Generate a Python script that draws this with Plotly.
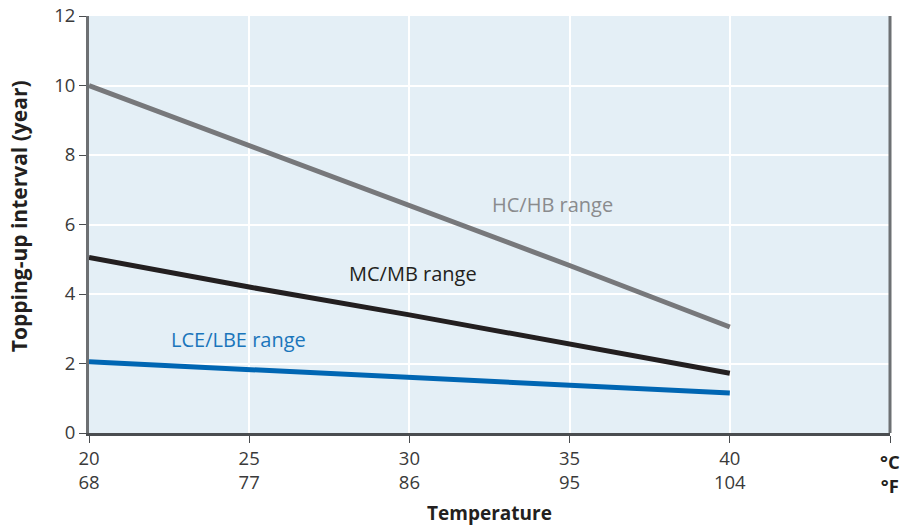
import plotly.graph_objects as go

temp_c = [20, 25, 30, 35, 40]
hc_hb = [10.0, 8.27, 6.55, 4.82, 3.05]
mc_mb = [5.05, 4.2, 3.4, 2.57, 1.72]
lce_lbe = [2.05, 1.82, 1.6, 1.37, 1.15]

tick_c = [20, 25, 30, 35, 40]
tick_f = [68, 77, 86, 95, 104]
y_ticks = [0, 2, 4, 6, 8, 10, 12]

FONT = "Open Sans, Noto Sans, sans-serif"

fig = go.Figure()
fig.add_trace(go.Scatter(x=temp_c, y=hc_hb, mode="lines",
                         line=dict(color="#77787b", width=5), showlegend=False))
fig.add_trace(go.Scatter(x=temp_c, y=mc_mb, mode="lines",
                         line=dict(color="#231f20", width=5), showlegend=False))
fig.add_trace(go.Scatter(x=temp_c, y=lce_lbe, mode="lines",
                         line=dict(color="#0066b3", width=5), showlegend=False))

tickvals = tick_c + [45]
ticktext = [f"{c}<br>{f}" for c, f in zip(tick_c, tick_f)] + [""]

fig.update_layout(
    width=901, height=526,
    margin=dict(l=89, r=11, t=16, b=93),
    paper_bgcolor="white",
    plot_bgcolor="#e4eff6",
    font=dict(family=FONT, size=18, color="#333333"),
    xaxis=dict(range=[20, 45], tickvals=tickvals, ticktext=ticktext,
               tickfont=dict(size=18.5, color="#3a3a3a"), automargin=False,
               ticklabeloverflow="allow",
               showgrid=True, gridcolor="white", gridwidth=1.5,
               zeroline=False, showline=True, linecolor="#4a4d50", linewidth=3,
               ticks="outside", ticklen=7, tickcolor="#4a4d50", tickwidth=1,
               title=dict(text="<b>Temperature</b>", font=dict(size=19, color="#231f20"), standoff=17)),
    yaxis=dict(range=[0, 12], tickvals=y_ticks,
               tickfont=dict(size=18.5, color="#3a3a3a"), automargin=False,
               ticklabeloverflow="allow",
               showgrid=True, gridcolor="white", gridwidth=1.5,
               zeroline=False, showline=True, linecolor="#6d7073", linewidth=3,
               ticks="outside", ticklen=7, tickcolor="#4a4d50", tickwidth=1),
    shapes=[dict(type="line", xref="paper", yref="paper", x0=1, x1=1, y0=0, y1=1,
                 line=dict(color="#6d7073", width=3))],
    annotations=[
        dict(x=0, y=0.52, xref="paper", yref="paper", xanchor="center", yanchor="middle",
             xshift=-70, textangle=-90, showarrow=False,
             text="<b>Topping-up interval (year)</b>",
             font=dict(size=21, color="#231f20", family=FONT)),
        dict(x=34.48, y=6.59, text="HC/HB range", showarrow=False,
             font=dict(size=20, color="#8a8b8d", family=FONT)),
        dict(x=30.12, y=4.58, text="MC/MB range", showarrow=False,
             font=dict(size=20, color="#231f20", family=FONT)),
        dict(x=24.66, y=2.70, text="LCE/LBE range", showarrow=False,
             font=dict(size=20, color="#1a75bb", family=FONT)),
        dict(x=1, y=0, xref="paper", yref="paper", xanchor="center", yanchor="top",
             xshift=0, yshift=-14, align="center",
             text="<b>°C</b><br><b>°F</b>", showarrow=False,
             font=dict(size=18.5, color="#231f20", family=FONT)),
    ],
)

fig.write_html("out.html", config={"displayModeBar": False},
               post_script="document.body.style.margin='0';")
